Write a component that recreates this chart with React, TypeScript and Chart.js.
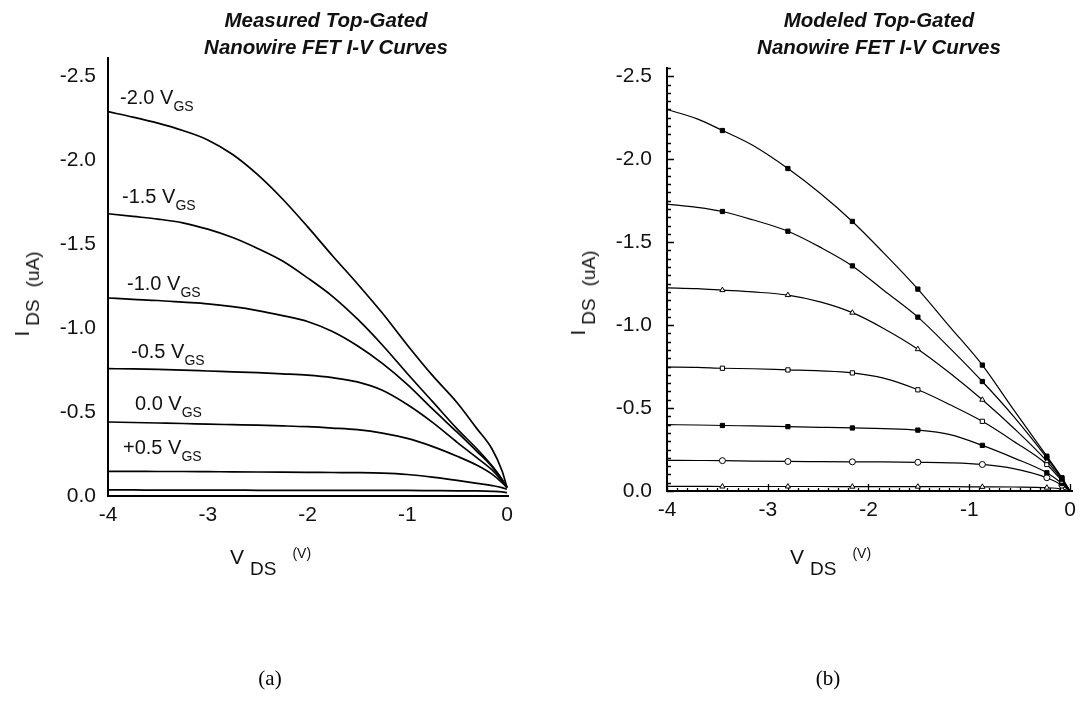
import React, { useEffect, useRef } from "react";
import { Chart, registerables } from "chart.js";
Chart.register(...registerables);

// ---------- DATA ----------
const measuredVds = [-4, -3.75, -3.5, -3.25, -3, -2.75, -2.5, -2.25, -2, -1.75, -1.5, -1.25, -1, -0.75, -0.5, -0.3, -0.15, -0.05, 0];
const measuredVgsM20 = [-2.29, -2.258, -2.222, -2.178, -2.122, -2.035, -1.915, -1.77, -1.605, -1.432, -1.265, -1.09, -0.9, -0.72, -0.556, -0.4, -0.28, -0.15, -0.05];
const measuredVgsM15 = [-1.682, -1.666, -1.65, -1.628, -1.59, -1.54, -1.475, -1.4, -1.3, -1.19, -1.055, -0.9, -0.73, -0.565, -0.4, -0.28, -0.18, -0.1, -0.05];
const measuredVgsM10 = [-1.18, -1.172, -1.165, -1.155, -1.145, -1.128, -1.105, -1.075, -1.04, -0.98, -0.895, -0.79, -0.665, -0.52, -0.38, -0.265, -0.175, -0.095, -0.05];
const measuredVgsM05 = [-0.759, -0.757, -0.754, -0.75, -0.745, -0.74, -0.735, -0.728, -0.72, -0.705, -0.68, -0.63, -0.545, -0.44, -0.32, -0.227, -0.155, -0.09, -0.05];
const measuredVgs00 = [-0.441, -0.438, -0.435, -0.432, -0.428, -0.425, -0.422, -0.418, -0.413, -0.405, -0.395, -0.375, -0.343, -0.296, -0.237, -0.183, -0.13, -0.08, -0.05];
const measuredVgsP05 = [-0.147, -0.147, -0.146, -0.146, -0.145, -0.144, -0.143, -0.142, -0.141, -0.14, -0.139, -0.136, -0.128, -0.113, -0.093, -0.075, -0.062, -0.05, -0.04];
const measuredVgsP10 = [-0.036, -0.036, -0.035, -0.035, -0.035, -0.035, -0.034, -0.034, -0.034, -0.034, -0.034, -0.033, -0.033, -0.032, -0.031, -0.03, -0.028, -0.025, -0.02];

const modeledVds = [-4, -3.7, -3.45, -3.15, -2.8, -2.48, -2.16, -1.85, -1.51, -1.19, -0.87, -0.56, -0.23, -0.08, 0];
const modeledVgsM20 = [-2.3, -2.243, -2.173, -2.084, -1.944, -1.795, -1.625, -1.436, -1.217, -0.988, -0.759, -0.49, -0.21, -0.08, 0];
const modeledVgsM15 = [-1.73, -1.71, -1.685, -1.635, -1.566, -1.47, -1.357, -1.21, -1.048, -0.86, -0.66, -0.45, -0.2, -0.075, 0];
const modeledVgsM10 = [-1.225, -1.22, -1.211, -1.2, -1.181, -1.14, -1.075, -0.98, -0.855, -0.71, -0.55, -0.38, -0.18, -0.068, 0];
const modeledVgsM05 = [-0.747, -0.745, -0.74, -0.737, -0.73, -0.724, -0.712, -0.68, -0.61, -0.52, -0.42, -0.3, -0.16, -0.06, 0];
const modeledVgs00 = [-0.4, -0.398, -0.395, -0.392, -0.388, -0.384, -0.38, -0.376, -0.367, -0.34, -0.275, -0.2, -0.11, -0.045, 0];
const modeledVgsP05 = [-0.185, -0.184, -0.183, -0.18, -0.178, -0.177, -0.176, -0.175, -0.173, -0.17, -0.16, -0.135, -0.08, -0.035, 0];
const modeledVgsP10 = [-0.028, -0.028, -0.027, -0.027, -0.027, -0.027, -0.026, -0.026, -0.026, -0.026, -0.025, -0.024, -0.02, -0.012, 0];
const modeledMarkerIndex = [2, 4, 6, 8, 10, 12, 13];

const idsTicks = [-2.5, -2.0, -1.5, -1.0, -0.5, 0.0];
const vdsTicks = [-4, -3, -2, -1, 0];
const measuredCurveLabels = ["-2.0", "-1.5", "-1.0", "-0.5", "0.0", "+0.5"];

// ---------- STYLE ----------
const SANS = '"Liberation Sans", Arial, Helvetica, sans-serif';
const SERIF = '"Liberation Serif", "Times New Roman", serif';

const toPts = (xs: number[], ys: number[]) => xs.map((x, i) => ({ x, y: ys[i] }));

const inwardTicks = {
  id: "inwardTicks",
  afterDatasetsDraw(chart: any) {
    const { ctx, chartArea, scales } = chart;
    const xs = scales.x;
    const ys = scales.y;
    ctx.save();
    ctx.strokeStyle = "#000";
    ctx.lineWidth = 1.3;
    ctx.beginPath();
    for (let k = -40; k <= 0; k++) {
      const px = Math.round(xs.getPixelForValue(k / 10)) + 0.5;
      const len = k % 10 === 0 ? 7 : 3;
      ctx.moveTo(px, chartArea.bottom);
      ctx.lineTo(px, chartArea.bottom - len);
    }
    for (let k = -51; k <= 0; k++) {
      const py = Math.round(ys.getPixelForValue(k / 20)) + 0.5;
      const len = k % 10 === 0 ? 7 : 4;
      ctx.moveTo(chartArea.left, py);
      ctx.lineTo(chartArea.left + len, py);
    }
    ctx.stroke();
    ctx.restore();
  },
};

function makeOptions(p: {
  top: number; right: number; yWidth: number; xHeight: number; yMin: number; xMax: number; yPad: number;
}) {
  return {
    responsive: false,
    animation: false as const,
    events: [] as any[],
    layout: { padding: { left: 0, top: p.top, right: p.right, bottom: 0 } },
    plugins: { legend: { display: false }, tooltip: { enabled: false }, title: { display: false } },
    elements: { point: { radius: 0 } },
    scales: {
      x: {
        type: "linear" as const,
        position: "bottom" as const,
        min: -4,
        max: p.xMax,
        grid: { display: false, drawTicks: false },
        border: { display: true, color: "#000", width: 2 },
        ticks: {
          font: { family: SANS, size: 21 },
          color: "#111",
          padding: 7,
          callback: (v: any) => String(v),
        },
        afterBuildTicks: (s: any) => { s.ticks = vdsTicks.map((value) => ({ value })); },
        afterFit: (s: any) => { s.height = p.xHeight; },
      },
      y: {
        type: "linear" as const,
        reverse: true,
        min: p.yMin,
        max: 0,
        grid: { display: false, drawTicks: false },
        border: { display: true, color: "#000", width: 2 },
        ticks: {
          font: { family: SANS, size: 21 },
          color: "#111",
          padding: p.yPad,
          callback: (v: any) => Number(v).toFixed(1),
        },
        afterBuildTicks: (s: any) => { s.ticks = idsTicks.map((value) => ({ value })); },
        afterFit: (s: any) => { s.width = p.yWidth; },
      },
    },
  };
}

function MeasuredChart() {
  const ref = useRef<HTMLCanvasElement | null>(null);
  useEffect(() => {
    if (!ref.current) return;
    const series = [measuredVgsM20, measuredVgsM15, measuredVgsM10, measuredVgsM05, measuredVgs00, measuredVgsP05, measuredVgsP10];
    const chart = new Chart(ref.current, {
      type: "line",
      data: {
        datasets: series.map((ys) => ({
          data: toPts(measuredVds, ys),
          borderColor: "#000",
          borderWidth: 1.7,
          cubicInterpolationMode: "monotone" as const,
          pointRadius: 0,
          fill: false,
        })),
      },
      options: makeOptions({ top: 58, right: 37, yWidth: 108, xHeight: 64, yMin: -2.61, xMax: 0.01, yPad: 12 }) as any,
    });
    return () => chart.destroy();
  }, []);
  return <canvas ref={ref} width={545} height={560} style={{ position: "absolute", left: 0, top: 0, width: 545, height: 560 }} />;
}

function ModeledChart() {
  const ref = useRef<HTMLCanvasElement | null>(null);
  useEffect(() => {
    if (!ref.current) return;
    const series = [
      { ys: modeledVgsM20, style: "rect", fill: "#000" },
      { ys: modeledVgsM15, style: "rect", fill: "#000" },
      { ys: modeledVgsM10, style: "triangle", fill: "#fff" },
      { ys: modeledVgsM05, style: "rect", fill: "#fff" },
      { ys: modeledVgs00, style: "rect", fill: "#000" },
      { ys: modeledVgsP05, style: "circle", fill: "#fff" },
      { ys: modeledVgsP10, style: "triangle", fill: "#fff" },
    ];
    const chart = new Chart(ref.current, {
      type: "line",
      data: {
        datasets: series.map((s) => ({
          data: toPts(modeledVds, s.ys),
          borderColor: "#000",
          borderWidth: 1.2,
          cubicInterpolationMode: "monotone" as const,
          pointRadius: modeledVds.map((_, i) => (modeledMarkerIndex.includes(i) ? 3 : 0)),
          pointStyle: s.style as any,
          pointBackgroundColor: s.fill,
          pointBorderColor: "#000",
          pointBorderWidth: 1,
          fill: false,
        })),
      },
      options: makeOptions({ top: 68, right: 11, yWidth: 122, xHeight: 69, yMin: -2.55, xMax: 0.02, yPad: 15 }) as any,
      plugins: [inwardTicks],
    });
    return () => chart.destroy();
  }, []);
  return <canvas ref={ref} width={538} height={560} style={{ position: "absolute", left: 545, top: 0, width: 538, height: 560 }} />;
}

const titleStyle = (cx: number): React.CSSProperties => ({
  position: "absolute",
  left: cx - 200,
  top: 6,
  width: 400,
  textAlign: "center",
  fontFamily: SANS,
  fontWeight: "bold",
  fontStyle: "italic",
  fontSize: 20.5,
  lineHeight: "27px",
  color: "#111",
});

function YTitle({ cx, cy }: { cx: number; cy: number }) {
  return (
    <div style={{ position: "absolute", left: cx, top: cy, transform: "translate(-50%, -50%) rotate(-90deg)", whiteSpace: "nowrap", fontFamily: SANS, lineHeight: "24px", color: "#111" }}>
      <span style={{ fontSize: 21 }}>I</span>
      <span style={{ fontSize: 19, position: "relative", top: 10, marginLeft: 5 }}>DS</span>
      <span style={{ fontSize: 19, position: "relative", top: 10, marginLeft: 12 }}>(uA)</span>
    </div>
  );
}

function XTitle({ left, top }: { left: number; top: number }) {
  return (
    <div style={{ position: "absolute", left, top, whiteSpace: "nowrap", fontFamily: SANS, lineHeight: "24px", color: "#111" }}>
      <span style={{ fontSize: 21 }}>V</span>
      <span style={{ fontSize: 19, position: "relative", top: 11, marginLeft: 6 }}>DS</span>
      <span style={{ fontSize: 14, position: "relative", top: -6, marginLeft: 16 }}>(V)</span>
    </div>
  );
}

const curveLabelPos = [
  { left: 120, top: 87 },
  { left: 122, top: 186 },
  { left: 127, top: 273 },
  { left: 131, top: 341 },
  { left: 135, top: 393 },
  { left: 123, top: 437 },
];

export default function App() {
  return (
    <div style={{ position: "absolute", left: 0, top: 0, width: 1083, height: 702, background: "#fff", overflow: "hidden" }}>
      <MeasuredChart />
      <ModeledChart />
      <div style={titleStyle(326)}>Measured Top-Gated<br />Nanowire FET I-V Curves</div>
      <div style={titleStyle(879)}>Modeled Top-Gated<br />Nanowire FET I-V Curves</div>
      {measuredCurveLabels.map((t, i) => (
        <div key={t} style={{ position: "absolute", left: curveLabelPos[i].left, top: curveLabelPos[i].top, whiteSpace: "nowrap", fontFamily: SANS, fontSize: 20, lineHeight: "20px", color: "#111" }}>
          {t} V<span style={{ fontSize: 14, position: "relative", top: 7 }}>GS</span>
        </div>
      ))}
      <YTitle cx={23} cy={294} />
      <YTitle cx={579} cy={293} />
      <XTitle left={230} top={545} />
      <XTitle left={790} top={545} />
      <div style={{ position: "absolute", left: 240, top: 664, width: 60, textAlign: "center", fontFamily: SERIF, fontSize: 21, lineHeight: "28px", color: "#000" }}>(a)</div>
      <div style={{ position: "absolute", left: 798, top: 664, width: 60, textAlign: "center", fontFamily: SERIF, fontSize: 21, lineHeight: "28px", color: "#000" }}>(b)</div>
    </div>
  );
}
